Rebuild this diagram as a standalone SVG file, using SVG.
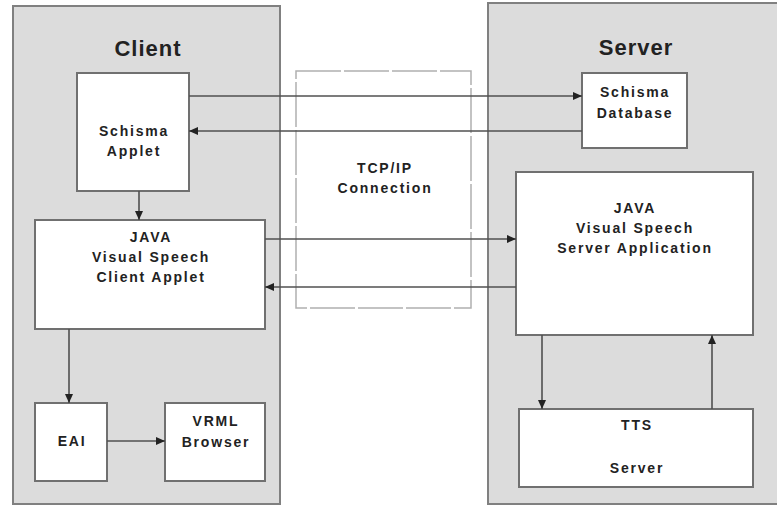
<svg xmlns="http://www.w3.org/2000/svg" width="777" height="505" viewBox="0 0 777 505">
<defs>
<style>
.panel{fill:#dcdcdc;stroke:#808080;stroke-width:2}
.box{fill:#fff;stroke:#707070;stroke-width:2}
.tcp{fill:#fff;stroke:#b0b0b0;stroke-width:1.5;stroke-dasharray:45 3}
.title{font-family:"Liberation Sans",Arial,sans-serif;font-weight:bold;font-size:22px;fill:#222;text-anchor:middle;letter-spacing:1px}
.lbl{font-family:"Liberation Sans",Arial,sans-serif;font-weight:bold;font-size:14px;fill:#222;text-anchor:middle;letter-spacing:1.8px}
.conn line{stroke:#505050;stroke-width:1.6;marker-end:url(#ah)}
</style>
<marker id="ah" markerUnits="userSpaceOnUse" markerWidth="9" markerHeight="8" refX="9" refY="4" orient="auto">
<path d="M0,0 L9,4 L0,8 z" fill="#222"/>
</marker>
</defs>
<rect width="777" height="505" fill="#fff"/>
<g id="client-panel">
<rect class="panel" x="13" y="6" width="267" height="498"/>
<text class="title" x="148" y="56">Client</text>
</g>
<g id="server-panel">
<rect class="panel" x="488" y="3" width="292" height="501"/>
<text class="title" x="636" y="55">Server</text>
</g>
<g id="tcp">
<rect class="tcp" x="296" y="71" width="175" height="237"/>
<text class="lbl" x="385" y="173">TCP/IP</text>
<text class="lbl" x="385" y="193">Connection</text>
</g>
<g id="schisma-applet">
<rect class="box" x="77" y="73" width="112" height="118"/>
<text class="lbl" x="134" y="136">Schisma</text>
<text class="lbl" x="134" y="156">Applet</text>
</g>
<g id="client-applet">
<rect class="box" x="35" y="220" width="230" height="109"/>
<text class="lbl" x="151" y="242">JAVA</text>
<text class="lbl" x="151" y="262">Visual Speech</text>
<text class="lbl" x="151" y="282">Client Applet</text>
</g>
<g id="eai">
<rect class="box" x="35" y="403" width="72" height="78"/>
<text class="lbl" x="72" y="446">EAI</text>
</g>
<g id="vrml">
<rect class="box" x="165" y="403" width="100" height="78"/>
<text class="lbl" x="216" y="426">VRML</text>
<text class="lbl" x="216" y="447">Browser</text>
</g>
<g id="schisma-db">
<rect class="box" x="582" y="73" width="105" height="75"/>
<text class="lbl" x="635" y="97">Schisma</text>
<text class="lbl" x="635" y="118">Database</text>
</g>
<g id="server-app">
<rect class="box" x="516" y="172" width="237" height="163"/>
<text class="lbl" x="635" y="213">JAVA</text>
<text class="lbl" x="635" y="233">Visual Speech</text>
<text class="lbl" x="635" y="253">Server Application</text>
</g>
<g id="tts">
<rect class="box" x="519" y="409" width="234" height="78"/>
<text class="lbl" x="637" y="430">TTS</text>
<text class="lbl" x="637" y="473">Server</text>
</g>
<g class="conn" id="connectors">
<line x1="189" y1="96" x2="582" y2="96"/>
<line x1="582" y1="131" x2="189" y2="131"/>
<line x1="265" y1="239" x2="516" y2="239"/>
<line x1="516" y1="287" x2="265" y2="287"/>
<line x1="139" y1="191" x2="139" y2="220"/>
<line x1="69" y1="329" x2="69" y2="403"/>
<line x1="107" y1="441" x2="165" y2="441"/>
<line x1="542" y1="335" x2="542" y2="409"/>
<line x1="712" y1="409" x2="712" y2="335"/>
</g>
</svg>
